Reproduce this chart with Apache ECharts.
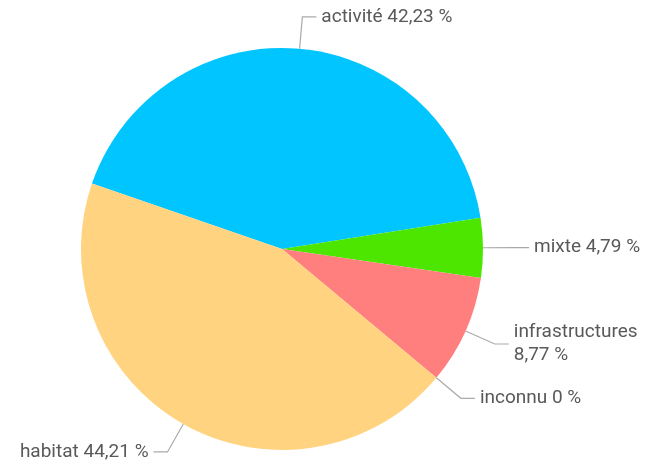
<!DOCTYPE html>
<html>
<head>
<meta charset="utf-8">
<script src="https://cdn.jsdelivr.net/npm/echarts@6/dist/echarts.min.js"></script>
<style>
  html, body { margin: 0; padding: 0; background: #fff; }
  #chart { width: 648px; height: 465px; }
</style>
</head>
<body>
<div id="chart"></div>
<script>
// slices, clockwise from the left
var names = ['activité', 'mixte', 'infrastructures', 'inconnu', 'habitat'];
var values = [42.23, 4.79, 8.77, 0, 44.21];
var colors = ['#00C5FF', '#4CE600', '#FF7F7F', '#FFD37F', '#FFD37F'];

var data = names.map(function (n, i) {
  return { name: n, value: values[i], itemStyle: { color: colors[i] } };
});

function fmt(p) {
  var v = p.value.toFixed(2).replace(/\.?0+$/, '').replace('.', ',');
  var sep = p.name.length > 10 ? '\n' : ' ';
  return p.name + sep + v + ' %';
}

var chart = echarts.init(document.getElementById('chart'));
chart.setOption({
  animation: false,
  series: [{
    type: 'pie',
    center: [282, 249],
    radius: 201,
    startAngle: 161,
    clockwise: true,
    data: data,
    label: {
      formatter: fmt,
      color: '#595959',
      fontFamily: 'Roboto',
      fontSize: 19,
      lineHeight: 23,
      overflow: 'none'
    },
    labelLine: {
      length: 32,
      length2: 14,
      lineStyle: { color: '#aaaaaa', width: 1.2 }
    }
  }]
});
</script>
</body>
</html>
